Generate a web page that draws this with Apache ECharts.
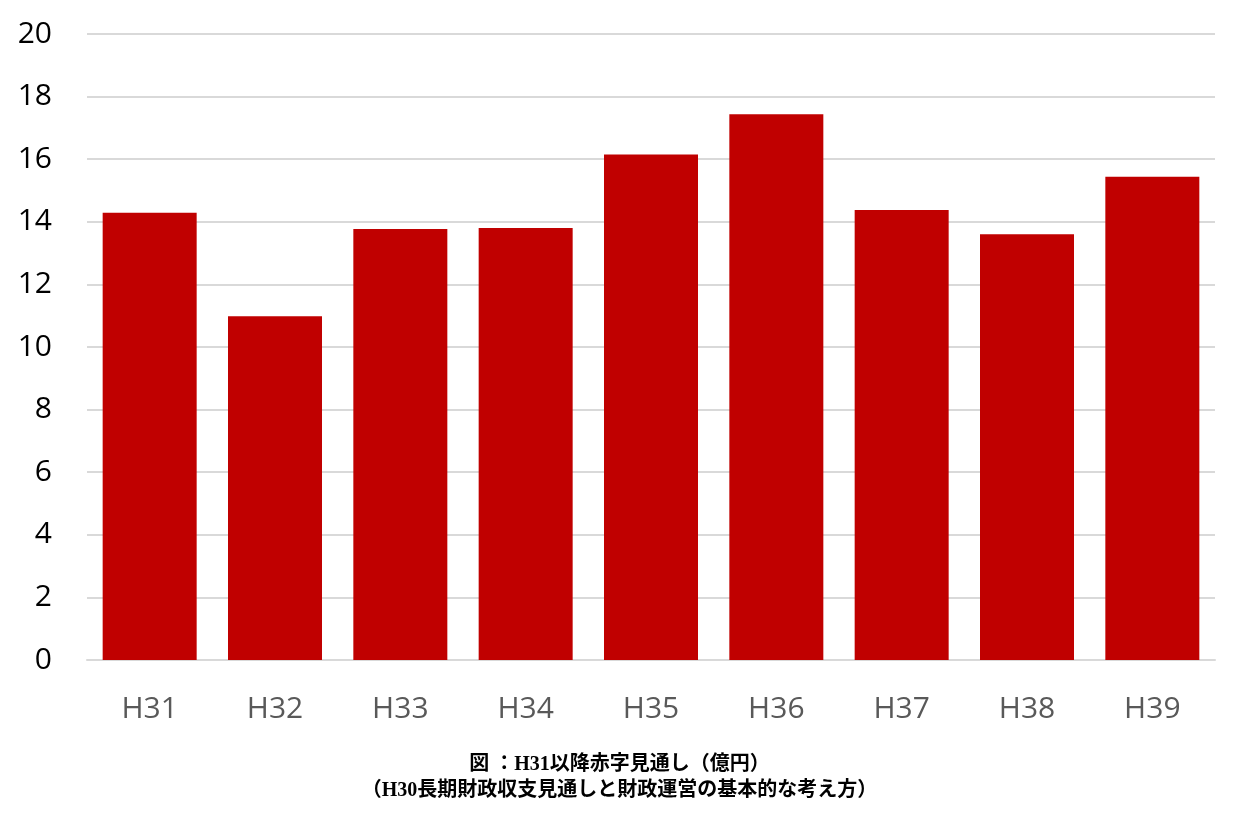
<!DOCTYPE html>
<html><head><meta charset="utf-8">
<script src="https://cdn.jsdelivr.net/npm/echarts@6/dist/echarts.min.js"></script>
<style>html,body{margin:0;padding:0;background:#fff}#c{width:1239px;height:816px}</style>
</head><body><div id="c"></div>
<script>
const categories = ['H31','H32','H33','H34','H35','H36','H37','H38','H39'];
const deficit = [14.29, 10.98, 13.77, 13.80, 16.15, 17.44, 14.38, 13.60, 15.44];
const yTicks = {min: 0, max: 20, interval: 2};
const captionLines = ['図 ：H31以降赤字見通し（億円）', '（H30長期財政収支見通しと財政運営の基本的な考え方）'];

const chart = echarts.init(document.getElementById('c'));
chart.setOption({
  animation: false,
  title: {
    text: captionLines.join('\n'),
    left: 'center', top: 747,
    textStyle: {fontFamily: '"Liberation Serif","Noto Sans CJK JP",serif', fontSize: 20, fontWeight: 'bold', color: '#000', lineHeight: 26}
  },
  grid: {left: 87, right: 24, top: 34, bottom: 156},
  xAxis: {
    type: 'category', data: categories,
    axisLine: {lineStyle: {color: '#d9d9d9', width: 2}},
    axisTick: {show: false},
    axisLabel: {color: '#595959', fontSize: 30, fontFamily: '"Open Sans",sans-serif', margin: 34}
  },
  yAxis: {
    type: 'value', min: yTicks.min, max: yTicks.max, interval: yTicks.interval,
    axisLine: {show: false}, axisTick: {show: false},
    splitLine: {lineStyle: {color: '#d9d9d9', width: 2}},
    axisLabel: {color: '#000', fontSize: 30, fontFamily: '"Open Sans",sans-serif', margin: 35}
  },
  series: [{
    type: 'bar', data: deficit, barCategoryGap: '25%',
    itemStyle: {color: '#c00000'}
  }]
});
</script></body></html>
